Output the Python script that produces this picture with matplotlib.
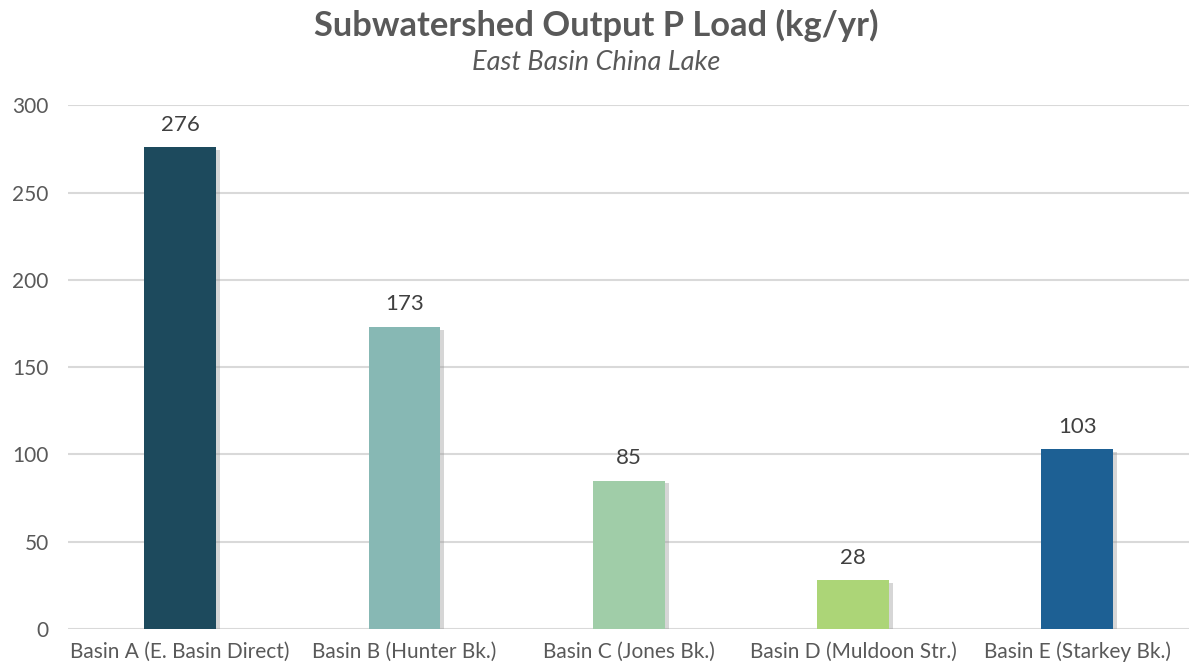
import matplotlib
matplotlib.use("Agg")
import matplotlib.pyplot as plt
import matplotlib.patheffects as pe

categories = ["Basin A (E. Basin Direct)", "Basin B (Hunter Bk.)", "Basin C (Jones Bk.)",
              "Basin D (Muldoon Str.)", "Basin E (Starkey Bk.)"]
values = [276, 173, 85, 28, 103]
colors = ["#1d4a5d", "#87b8b4", "#a0cda8", "#acd577", "#1d6094"]
yticks = [0, 50, 100, 150, 200, 250, 300]

txt = "#595959"
plt.rcParams['font.family'] = ['Lato', 'DejaVu Sans']

fig = plt.figure(figsize=(11.93, 6.70), dpi=100)
ax = fig.add_axes([0.057, 0.061, 0.940, 0.782])

x = list(range(len(categories)))
bars = ax.bar(x, values, width=0.32, color=colors, zorder=3)
for b in bars:
    b.set_path_effects([pe.SimplePatchShadow(offset=(3, -2), shadow_rgbFace="#999999", alpha=0.4),
                        pe.Normal()])

for xi, v in zip(x, values):
    ax.annotate(f"{v}", (xi, v), xytext=(0, 9), textcoords="offset points",
                ha="center", va="bottom", fontsize=16, color="#404040")

ax.set_xlim(-0.5, len(categories) - 0.5)
ax.set_ylim(0, 300)
ax.set_yticks(yticks)
ax.set_xticks(x)
ax.set_xticklabels(categories)
ax.yaxis.grid(True, color="#d9d9d9", linewidth=1.5, zorder=0)
ax.set_axisbelow(True)
for s in ax.spines.values():
    s.set_visible(False)
ax.tick_params(axis="both", length=0, labelsize=15, colors=txt)
ax.tick_params(axis="y", pad=14)
ax.tick_params(axis="x", pad=9)

fig.text(0.5, 0.962, "Subwatershed Output P Load (kg/yr)", ha="center", va="center",
         fontsize=24.8, fontweight="bold", color=txt)
fig.text(0.5, 0.907, "East Basin China Lake", ha="center", va="center",
         fontsize=19.5, style="italic", color=txt)

fig.savefig("out.png", dpi=100)
